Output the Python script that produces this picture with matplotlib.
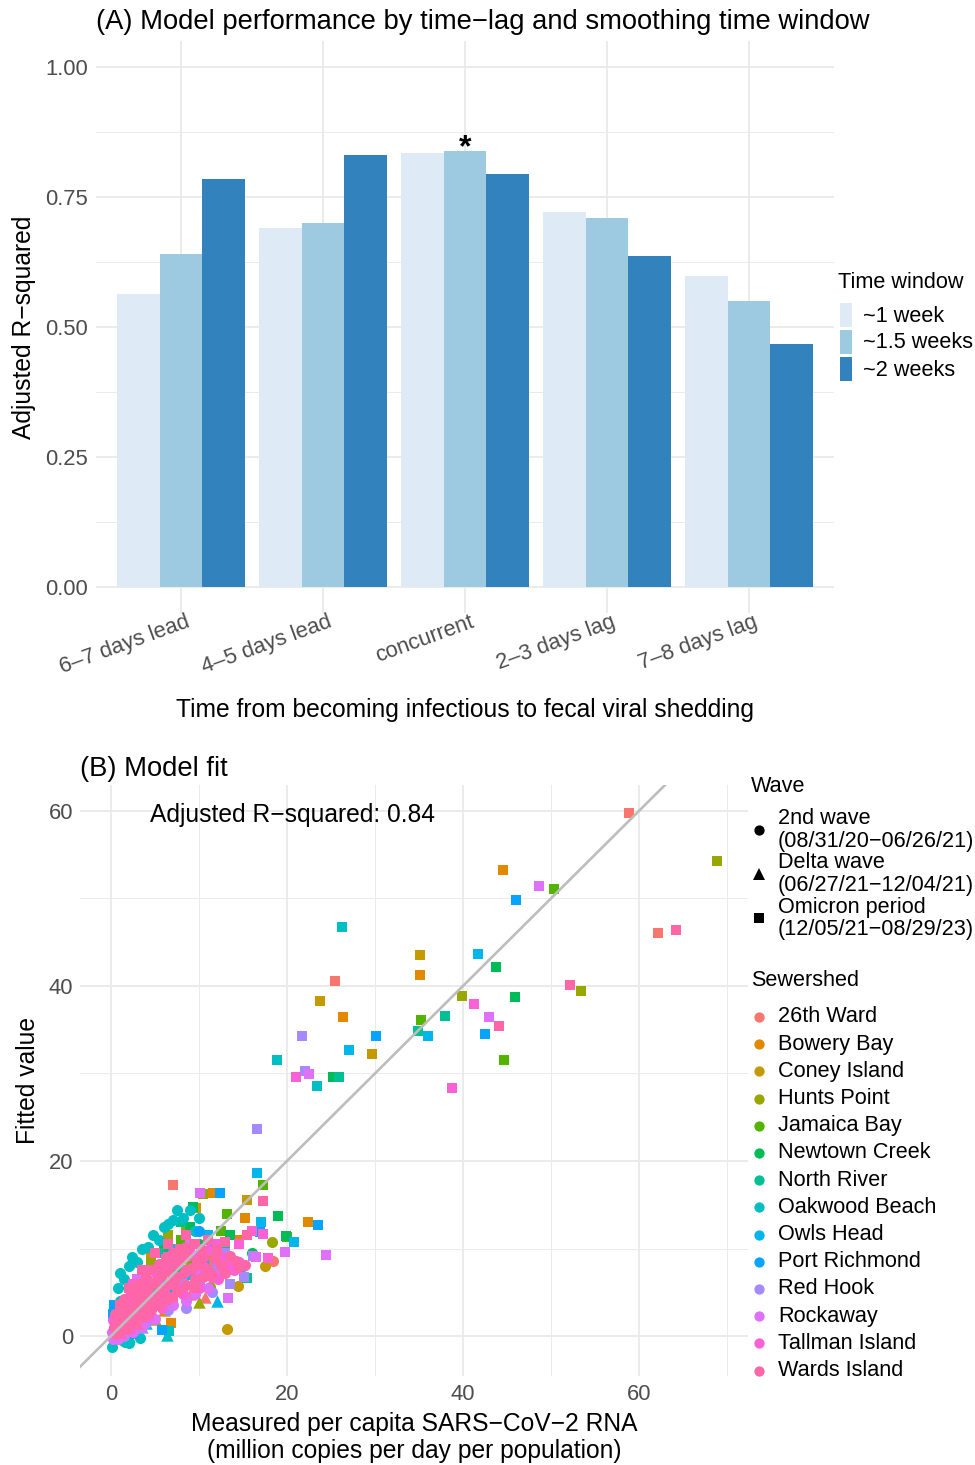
import numpy as np
import matplotlib
matplotlib.use("Agg")
import matplotlib.pyplot as plt
from matplotlib.patches import Rectangle
from matplotlib.lines import Line2D

plt.rcParams['font.family'] = ['Liberation Sans', 'DejaVu Sans']

# ---------------- Panel A data ----------------
lag_labels = ["6–7 days lead", "4–5 days lead", "concurrent", "2–3 days lag", "7–8 days lag"]
window_labels = ["~1 week", "~1.5 weeks", "~2 weeks"]
r2_1wk = [0.563, 0.690, 0.835, 0.721, 0.598]
r2_15wk = [0.640, 0.700, 0.838, 0.710, 0.550]
r2_2wk = [0.785, 0.831, 0.794, 0.637, 0.467]
best_lag = 2
best_window = 1
window_colors = ["#DEEBF7", "#9ECAE1", "#3182BD"]

# ---------------- Panel B data (measured, fitted, wave) ----------------
# wave: 'c' = 2nd wave, 'd' = Delta wave, 'o' = Omicron period
ward26 = [(58.9, 59.8, 'o'), (62.2, 46.1, 'o'), (25.5, 40.6, 'o'), (7.1, 17.3, 'o'), (10.7, 4.5, 'd'),
          (1.0, 1.5, 'c'), (2.5, 3.0, 'c'), (4.0, 4.2, 'c'), (5.5, 5.0, 'c'), (7.0, 6.5, 'c'), (8.5, 7.0, 'o'),
          (3.0, 5.0, 'o'), (6.0, 8.0, 'o'), (11.0, 8.5, 'c'), (13.0, 9.0, 'c'), (9.0, 4.8, 'd'), (2.0, 2.5, 'd'),
          (18.4, 8.6, 'c')]
bowery = [(44.5, 53.3, 'o'), (35.1, 41.2, 'o'), (26.4, 36.4, 'o'), (11.55, 16.4, 'o'), (15.2, 13.5, 'o'),
          (22.35, 13.05, 'o'), (6.8, 1.5, 'o'),
          (1.5, 2.0, 'c'), (3.0, 3.5, 'c'), (5.0, 6.0, 'c'), (6.5, 5.5, 'c'), (8.0, 7.5, 'o'), (4.5, 9.0, 'o'),
          (10.0, 8.0, 'c'), (12.0, 7.5, 'c'), (14.5, 11.0, 'o'), (2.0, 1.0, 'd'), (6.0, 3.0, 'd')]
coney = [(35.1, 43.5, 'o'), (23.7, 38.3, 'o'), (29.7, 32.2, 'o'), (15.5, 15.6, 'o'), (13.2, 0.8, 'c'),
         (14.4, 5.7, 'c'),
         (1.0, 1.0, 'c'), (2.5, 2.0, 'c'), (4.0, 3.5, 'c'), (6.0, 4.5, 'c'), (8.0, 6.0, 'c'), (10.0, 5.5, 'c'),
         (3.5, 5.5, 'o'), (7.0, 9.0, 'o'), (11.5, 9.5, 'o'), (5.0, 2.0, 'd'), (17.5, 8.0, 'c'), (9.7, 14.6, 'o')]
hunts = [(68.9, 54.3, 'o'), (53.4, 39.4, 'o'), (39.9, 38.9, 'o'), (10.5, 16.2, 'o'), (18.3, 10.8, 'c'),
         (10.0, 3.9, 'd'), (11.25, 5.6, 'c'),
         (1.5, 2.5, 'c'), (3.0, 4.0, 'c'), (5.0, 4.5, 'c'), (7.0, 7.0, 'c'), (9.0, 8.0, 'c'), (4.5, 8.5, 'o'),
         (6.5, 11.5, 'o'), (8.5, 12.5, 'o'), (12.0, 10.0, 'c'), (2.5, 1.5, 'd'), (6.0, 3.5, 'd')]
jamaica = [(50.3, 51.1, 'o'), (35.2, 36.1, 'o'), (44.7, 31.5, 'o'), (17.3, 17.3, 'o'), (13.2, 14.0, 'o'),
           (20.0, 11.35, 'o'),
           (1.0, 2.0, 'c'), (3.0, 3.0, 'c'), (5.0, 5.5, 'c'), (7.5, 6.0, 'c'), (9.0, 9.0, 'c'), (11.0, 7.0, 'c'),
           (4.0, 7.5, 'o'), (8.0, 11.0, 'o'), (12.5, 12.0, 'o'), (2.0, 0.5, 'd'), (14.0, 8.5, 'c')]
newtown = [(43.8, 42.2, 'o'), (45.9, 38.7, 'o'), (25.2, 29.55, 'o'), (9.35, 14.7, 'o'), (19.0, 13.7, 'o'),
           (19.9, 11.4, 'o'),
           (1.5, 1.5, 'c'), (3.5, 4.5, 'c'), (5.5, 6.5, 'c'), (7.5, 8.0, 'c'), (10.0, 10.5, 'c'), (12.0, 9.0, 'c'),
           (6.0, 10.0, 'o'), (9.0, 12.5, 'o'), (13.5, 11.5, 'o'), (3.0, 1.0, 'd'), (16.0, 9.5, 'c')]
north = [(37.95, 36.6, 'o'), (34.85, 34.8, 'o'), (25.9, 29.55, 'o'), (15.5, 6.6, 'o'),
         (1.0, 2.5, 'c'), (2.5, 4.0, 'c'), (4.5, 5.0, 'c'), (6.5, 7.5, 'c'), (8.5, 9.5, 'c'), (10.5, 9.0, 'c'),
         (5.5, 9.5, 'o'), (8.0, 13.0, 'o'), (13.0, 10.0, 'o'), (2.0, 0.0, 'd')]
oakwood = [(26.25, 46.7, 'o'), (18.9, 31.5, 'o'), (23.4, 28.6, 'o'), (6.4, 0.1, 'd'), (6.6, 0.6, 'o'),
           (0.1, -1.2, 'c'), (1.6, -0.65, 'c'), (2.0, -0.8, 'c'), (3.3, -0.2, 'c'), (1.0, 7.2, 'c'),
           (2.35, 9.06, 'c'), (4.8, 11.5, 'c'), (7.5, 14.4, 'c'), (9.0, 14.4, 'c'), (7.1, 13.3, 'c'),
           (1.0, 4.0, 'c'), (3.5, 10.0, 'c'), (6.0, 12.5, 'c'), (0.5, 1.0, 'c'), (4.0, 3.0, 'c'),
           (9.5, 12.0, 'c'), (1.2, -0.5, 'c'), (2.0, 8.0, 'c'), (0.8, 5.5, 'c'), (1.5, 6.5, 'c'),
           (3.0, 8.5, 'c'), (4.2, 10.2, 'c'), (5.5, 11.0, 'c'), (6.5, 12.8, 'c'), (8.2, 13.5, 'c'),
           (10.0, 13.5, 'c')]
owls = [(41.7, 43.6, 'o'), (36.0, 34.3, 'o'), (27.05, 32.7, 'o'), (16.6, 18.6, 'o'), (17.1, 13.0, 'o'),
        (20.8, 10.8, 'o'), (12.0, 4.0, 'd'),
        (1.0, 1.5, 'c'), (2.5, 3.5, 'c'), (4.5, 4.0, 'c'), (6.5, 6.0, 'c'), (8.5, 7.0, 'c'), (10.5, 8.5, 'c'),
        (3.5, 6.5, 'o'), (7.0, 10.0, 'o'), (11.0, 11.5, 'o'), (0.5, 3.0, 'o'), (4.0, 1.5, 'd'), (0.3, 0.5, 'o')]
port = [(46.0, 49.8, 'o'), (30.15, 34.25, 'o'), (42.5, 34.5, 'o'), (12.4, 16.4, 'o'), (23.5, 12.7, 'o'),
        (5.75, 0.7, 'o'), (16.9, 11.9, 'o'),
        (1.5, 2.0, 'c'), (3.0, 3.0, 'c'), (5.0, 4.0, 'c'), (7.0, 5.5, 'c'), (9.0, 7.5, 'c'), (11.5, 10.0, 'c'),
        (4.0, 6.0, 'o'), (8.0, 9.5, 'o'), (10.0, 12.0, 'c'), (0.3, 3.5, 'o'), (15.0, 8.0, 'c'), (2.5, 0.5, 'd'),
        (0.2, 2.5, 'o'), (0.5, 1.5, 'o')]
redhook = [(21.7, 34.25, 'o'), (22.1, 30.3, 'o'), (16.6, 23.7, 'o'), (15.1, 6.7, 'o'), (16.1, 9.1, 'o'),
           (1.0, 1.0, 'c'), (2.5, 2.5, 'c'), (4.5, 4.5, 'c'), (6.0, 5.0, 'c'), (8.0, 6.5, 'c'), (10.0, 6.0, 'c'),
           (12.0, 8.0, 'c'), (3.0, 5.5, 'o'), (7.0, 8.5, 'o'), (13.0, 9.5, 'o'), (3.5, 1.0, 'd'),
           (1.5, 0.0, 'c'), (4.0, 1.5, 'c'), (6.5, 3.0, 'c'), (8.5, 3.2, 'c'), (11.5, 5.0, 'c'), (13.5, 6.0, 'o')]
rockaway = [(48.6, 51.4, 'o'), (42.95, 36.5, 'o'), (22.45, 29.9, 'o'), (10.1, 16.4, 'o'), (24.4, 9.3, 'o'),
            (19.8, 9.6, 'o'), (13.3, 4.4, 'o'),
            (0.5, 0.5, 'c'), (1.5, 1.5, 'c'), (3.0, 2.0, 'c'), (4.5, 3.5, 'c'), (6.0, 4.0, 'c'), (8.0, 5.5, 'c'),
            (10.0, 7.0, 'c'), (12.5, 7.5, 'c'), (14.5, 8.5, 'c'), (3.0, 6.5, 'o'), (6.0, 8.0, 'o'),
            (9.0, 10.5, 'o'), (0.2, -0.3, 'c'), (0.1, 0.5, 'c'), (16.5, 9.0, 'o'),
            (0.8, -0.3, 'c'), (1.5, 0.2, 'c'), (2.5, 0.5, 'c'), (3.5, 1.2, 'c'), (5.0, 2.0, 'c'),
            (7.0, 3.5, 'c'), (8.5, 4.0, 'c'), (9.5, 4.8, 'c'), (11.0, 5.5, 'c')]
tallman = [(41.25, 37.9, 'o'), (21.0, 29.6, 'o'), (38.75, 28.3, 'o'), (17.3, 11.7, 'o'), (17.8, 8.9, 'o'),
           (0.5, 0.8, 'c'), (1.0, 2.2, 'c'), (1.8, 1.5, 'c'), (2.5, 3.5, 'c'), (3.2, 2.5, 'c'), (4.0, 4.8, 'c'),
           (4.8, 3.8, 'c'), (5.5, 5.8, 'c'), (6.2, 4.5, 'c'), (7.0, 6.8, 'c'), (7.8, 5.5, 'c'), (8.5, 7.5, 'c'),
           (9.5, 6.5, 'c'), (10.5, 8.0, 'c'), (11.5, 6.8, 'c'), (12.5, 9.0, 'c'), (13.5, 8.0, 'c'),
           (2.5, 6.0, 'o'), (4.5, 7.5, 'o'), (6.5, 9.0, 'o'), (9.0, 10.0, 'o'), (16.0, 12.0, 'o'),
           (14.5, 10.5, 'o'),
           (0.2, 1.8, 'c'), (1.2, 3.0, 'c'), (2.0, 4.5, 'c'), (3.0, 5.2, 'c'), (3.8, 6.2, 'c'), (5.2, 7.0, 'c'),
           (6.0, 7.8, 'c'), (7.5, 8.5, 'c'), (8.0, 9.8, 'o'), (9.8, 9.2, 'c'), (11.0, 9.8, 'c'),
           (12.0, 10.5, 'o'), (2.2, 0.8, 'c'), (4.2, 2.2, 'c'), (5.8, 3.2, 'c'), (8.2, 4.8, 'c'),
           (10.0, 5.5, 'c'), (12.2, 6.5, 'c'), (14.0, 7.5, 'c')]
wards = [(64.2, 46.4, 'o'), (52.2, 40.1, 'o'), (44.05, 35.4, 'o'), (17.3, 15.4, 'o'), (14.5, 7.9, 'c'),
         (15.2, 8.1, 'c'),
         (0.3, 1.0, 'c'), (0.8, 1.8, 'c'), (1.2, 2.5, 'c'), (1.5, 1.2, 'c'), (2.0, 3.2, 'c'), (2.2, 2.0, 'c'),
         (2.8, 4.0, 'c'), (3.0, 2.8, 'c'), (3.5, 4.8, 'c'), (3.8, 3.5, 'c'), (4.2, 5.5, 'c'), (4.5, 4.2, 'c'),
         (5.0, 6.2, 'c'), (5.3, 4.8, 'c'), (5.8, 7.0, 'c'), (6.0, 5.5, 'c'), (6.5, 7.5, 'c'), (6.8, 6.0, 'c'),
         (7.2, 8.2, 'c'), (7.5, 6.8, 'c'), (8.0, 8.8, 'c'), (8.3, 7.2, 'c'), (8.8, 9.2, 'c'), (9.2, 7.8, 'c'),
         (9.8, 8.5, 'c'), (10.5, 9.0, 'c'), (11.0, 7.5, 'c'), (11.8, 8.8, 'c'), (12.5, 8.0, 'c'),
         (13.5, 9.2, 'c'), (1.0, 0.5, 'd'), (3.0, 1.5, 'd'), (2.0, 5.5, 'o'), (3.5, 7.5, 'o'), (5.0, 9.5, 'o'),
         (6.5, 10.5, 'o'), (8.5, 11.5, 'o'), (4.0, 2.5, 'o'), (7.0, 4.5, 'o'), (9.5, 5.5, 'o'),
         (11.0, 11.0, 'o'), (13.0, 10.8, 'o'), (15.5, 11.5, 'o'),
         (0.5, 2.5, 'c'), (1.0, 3.5, 'o'), (1.5, 4.2, 'c'), (2.5, 5.0, 'c'), (3.2, 6.0, 'o'), (4.0, 6.8, 'c'),
         (4.8, 7.5, 'o'), (5.5, 8.2, 'c'), (6.2, 8.8, 'o'), (7.0, 9.5, 'c'), (7.8, 10.0, 'o'),
         (8.5, 10.2, 'c'), (9.5, 10.5, 'o'), (0.6, 0.2, 'c'), (1.8, 0.8, 'c'), (2.8, 1.8, 'c'),
         (3.5, 2.2, 'c'), (4.5, 3.0, 'c'), (5.5, 3.6, 'c'), (6.5, 4.2, 'c'), (7.5, 5.2, 'c'), (8.5, 5.8, 'c'),
         (9.5, 6.5, 'c'), (10.5, 6.8, 'c'), (11.5, 7.0, 'c'), (12.0, 9.8, 'o'), (10.2, 10.0, 'c'),
         (13.0, 7.2, 'c'), (14.2, 8.6, 'c'), (1.0, 1.2, 'c'), (2.5, 2.5, 'c'), (4.0, 4.0, 'c'),
         (5.5, 5.2, 'c'), (7.0, 6.0, 'c'), (8.8, 7.6, 'c'), (10.0, 8.2, 'c')]

sewershed_names = ["26th Ward", "Bowery Bay", "Coney Island", "Hunts Point", "Jamaica Bay",
                   "Newtown Creek", "North River", "Oakwood Beach", "Owls Head", "Port Richmond",
                   "Red Hook", "Rockaway", "Tallman Island", "Wards Island"]
sewershed_points = [ward26, bowery, coney, hunts, jamaica, newtown, north, oakwood, owls, port,
                    redhook, rockaway, tallman, wards]
wave_codes = ['c', 'd', 'o']
wave_names = [("2nd wave", "(08/31/20−06/26/21)"),
              ("Delta wave", "(06/27/21−12/04/21)"),
              ("Omicron period", "(12/05/21−08/29/23)")]
adj_r2_text = "Adjusted R−squared: 0.84"


# ---------------- helpers ----------------
def hcl_hex(h, c=100.0, l=65.0):
    Xn, Yn, Zn = 95.047, 100.0, 108.883
    Y = ((l + 16) / 116) ** 3 if l > 8 else l / 903.3
    un = 4 * Xn / (Xn + 15 * Yn + 3 * Zn)
    vn = 9 * Yn / (Xn + 15 * Yn + 3 * Zn)
    u = c * np.cos(np.radians(h))
    v = c * np.sin(np.radians(h))
    up = u / (13 * l) + un
    vp = v / (13 * l) + vn
    X = Y * 9 * up / (4 * vp)
    Z = Y * (12 - 3 * up - 20 * vp) / (4 * vp)
    rgb = np.array([3.2404542 * X - 1.5371385 * Y - 0.4985314 * Z,
                    -0.9692660 * X + 1.8760108 * Y + 0.0415560 * Z,
                    0.0556434 * X - 0.2040259 * Y + 1.0572252 * Z])
    out = np.where(rgb <= 0.0031308, 12.92 * rgb, 1.055 * np.abs(rgb) ** (1 / 2.4) - 0.055)
    out = np.clip(out, 0, 1)
    return '#%02X%02X%02X' % tuple(int(round(x * 255)) for x in out)


n_sh = len(sewershed_names)
hues = np.linspace(15, 375, n_sh + 1)[:-1]
sh_colors = [hcl_hex(h) for h in hues]

W, H = 975, 1465


def P(px, py):
    return (px / W, 1 - py / H)


TICK_C = '#4D4D4D'
GRID_C = '#EBEBEB'
fs_tick = 15.8
fs_axis = 17.7
fs_title = 19.7
fs_leg = 15.6

fig = plt.figure(figsize=(W / 100, H / 100), dpi=100)

# ---------------- Panel A ----------------
ax1 = fig.add_axes([96 / W, 1 - 613 / H, 738 / W, 572 / H])
xpos = np.arange(len(lag_labels))
series = [r2_1wk, r2_15wk, r2_2wk]
bw = 0.3
for i, (vals, col) in enumerate(zip(series, window_colors)):
    ax1.bar(xpos + (i - 1) * bw, vals, width=bw, color=col, zorder=2, linewidth=0)
ax1.set_xlim(-0.6, 4.6)
ax1.set_ylim(-0.05, 1.05)
ax1.set_yticks([0, 0.25, 0.5, 0.75, 1.0])
ax1.set_yticklabels(["0.00", "0.25", "0.50", "0.75", "1.00"])
ax1.set_yticks([0.125, 0.375, 0.625, 0.875], minor=True)
ax1.set_xticks(xpos)
ax1.set_xticklabels([])
ax1.grid(True, which='major', color=GRID_C, lw=1.4, zorder=0)
ax1.grid(True, which='minor', axis='y', color=GRID_C, lw=0.7, zorder=0)
ax1.set_axisbelow(True)
for s in ax1.spines.values():
    s.set_visible(False)
ax1.tick_params(axis='both', which='both', length=0)
ax1.tick_params(axis='y', labelsize=fs_tick, labelcolor=TICK_C, pad=5.5)
for i, lab in enumerate(lag_labels):
    ax1.text(i + 0.03, -0.047, lab, rotation=20, ha='right', va='top', rotation_mode='anchor',
             fontsize=fs_tick, color=TICK_C)
best_val = series[best_window][best_lag]
ax1.text(best_lag + (best_window - 1) * bw, best_val + 0.006, "*", ha='center', va='center',
         fontsize=23, fontweight='bold', color='black')
fig.text(*P(96, 22), "(A) Model performance by time−lag and smoothing time window",
         fontsize=fs_title, ha='left', va='center')
fig.text(*P(465, 710), "Time from becoming infectious to fecal viral shedding",
         fontsize=fs_axis, ha='center', va='center')
fig.text(*P(24, 327), "Adjusted R−squared", fontsize=fs_axis, ha='center', va='center', rotation=90)

# legend A
fig.text(*P(838, 282), "Time window", fontsize=fs_leg, ha='left', va='center')
key_tops = [303, 330, 357]
for lab, col, kt in zip(window_labels, window_colors, key_tops):
    x0, y0 = P(840, kt + 24)
    fig.add_artist(Rectangle((x0, y0), 12 / W, 24 / H, transform=fig.transFigure,
                             facecolor=col, edgecolor='none'))
    fig.text(*P(863, kt + 13), lab, fontsize=fs_leg, ha='left', va='center')

# ---------------- Panel B ----------------
ax2 = fig.add_axes([80 / W, 1 - 1376 / H, 668 / W, 591 / H])
markers = {'c': ('o', 64), 'd': ('^', 80), 'o': ('s', 56)}
for pts, col in zip(sewershed_points, sh_colors):
    for wc in wave_codes:
        sub = [(a, b) for a, b, w in pts if w == wc]
        if not sub:
            continue
        xs, ys = zip(*sub)
        m, sz = markers[wc]
        ax2.scatter(xs, ys, marker=m, s=sz, color=col, linewidths=0, zorder=2)
ax2.set_xlim(-3.52, 72.4)
ax2.set_ylim(-4.57, 62.97)
lims = np.array([-10, 80])
ax2.plot(lims, lims, color='#BDBDBD', lw=1.9, zorder=3)
ax2.set_xticks([0, 20, 40, 60])
ax2.set_yticks([0, 20, 40, 60])
ax2.set_xticks([10, 30, 50, 70], minor=True)
ax2.set_yticks([10, 30, 50], minor=True)
ax2.grid(True, which='major', color=GRID_C, lw=1.4, zorder=0)
ax2.grid(True, which='minor', color=GRID_C, lw=0.7, zorder=0)
ax2.set_axisbelow(True)
for s in ax2.spines.values():
    s.set_visible(False)
ax2.tick_params(axis='both', which='both', length=0)
ax2.tick_params(axis='both', labelsize=fs_tick, labelcolor=TICK_C)
ax2.tick_params(axis='y', pad=5)
ax2.tick_params(axis='x', pad=6)
ax2.text(4.4, 59.5, adj_r2_text, fontsize=fs_axis, ha='left', va='center')
fig.text(*P(80, 769), "(B) Model fit", fontsize=fs_title, ha='left', va='center')
fig.text(*P(414, 1424), "Measured per capita SARS−CoV−2 RNA", fontsize=fs_axis, ha='center', va='center')
fig.text(*P(414, 1451), "(million copies per day per population)", fontsize=fs_axis, ha='center', va='center')
fig.text(*P(28, 1080), "Fitted value", fontsize=fs_axis, ha='center', va='center', rotation=90)

# legend B: wave
fig.text(*P(751, 787), "Wave", fontsize=fs_leg, ha='left', va='center')
wave_marker_y = [830, 874, 918]
wave_text_y = [(819, 842), (863, 885), (907, 930)]
leg_ms = {'c': ('o', 7.4), 'd': ('^', 8.4), 'o': ('s', 6.8)}
for wc, (l1, l2), my, (ty1, ty2) in zip(wave_codes, wave_names, wave_marker_y, wave_text_y):
    m, ms = leg_ms[wc]
    fig.add_artist(Line2D([759 / W], [1 - my / H], marker=m, markersize=ms, color='black',
                          linestyle='none', markeredgewidth=0, transform=fig.transFigure))
    fig.text(*P(778, ty1), l1, fontsize=fs_leg, ha='left', va='center')
    fig.text(*P(778, ty2), l2, fontsize=fs_leg, ha='left', va='center')

# legend B: sewershed
fig.text(*P(751, 981), "Sewershed", fontsize=fs_leg, ha='left', va='center')
for i, (nm, col) in enumerate(zip(sewershed_names, sh_colors)):
    yy = 1017 + i * 27.2
    fig.add_artist(Line2D([759 / W], [1 - yy / H], marker='o', markersize=7.4, color=col,
                          linestyle='none', markeredgewidth=0, transform=fig.transFigure))
    fig.text(*P(778, yy), nm, fontsize=fs_leg, ha='left', va='center')

fig.savefig("out.png", dpi=100)
